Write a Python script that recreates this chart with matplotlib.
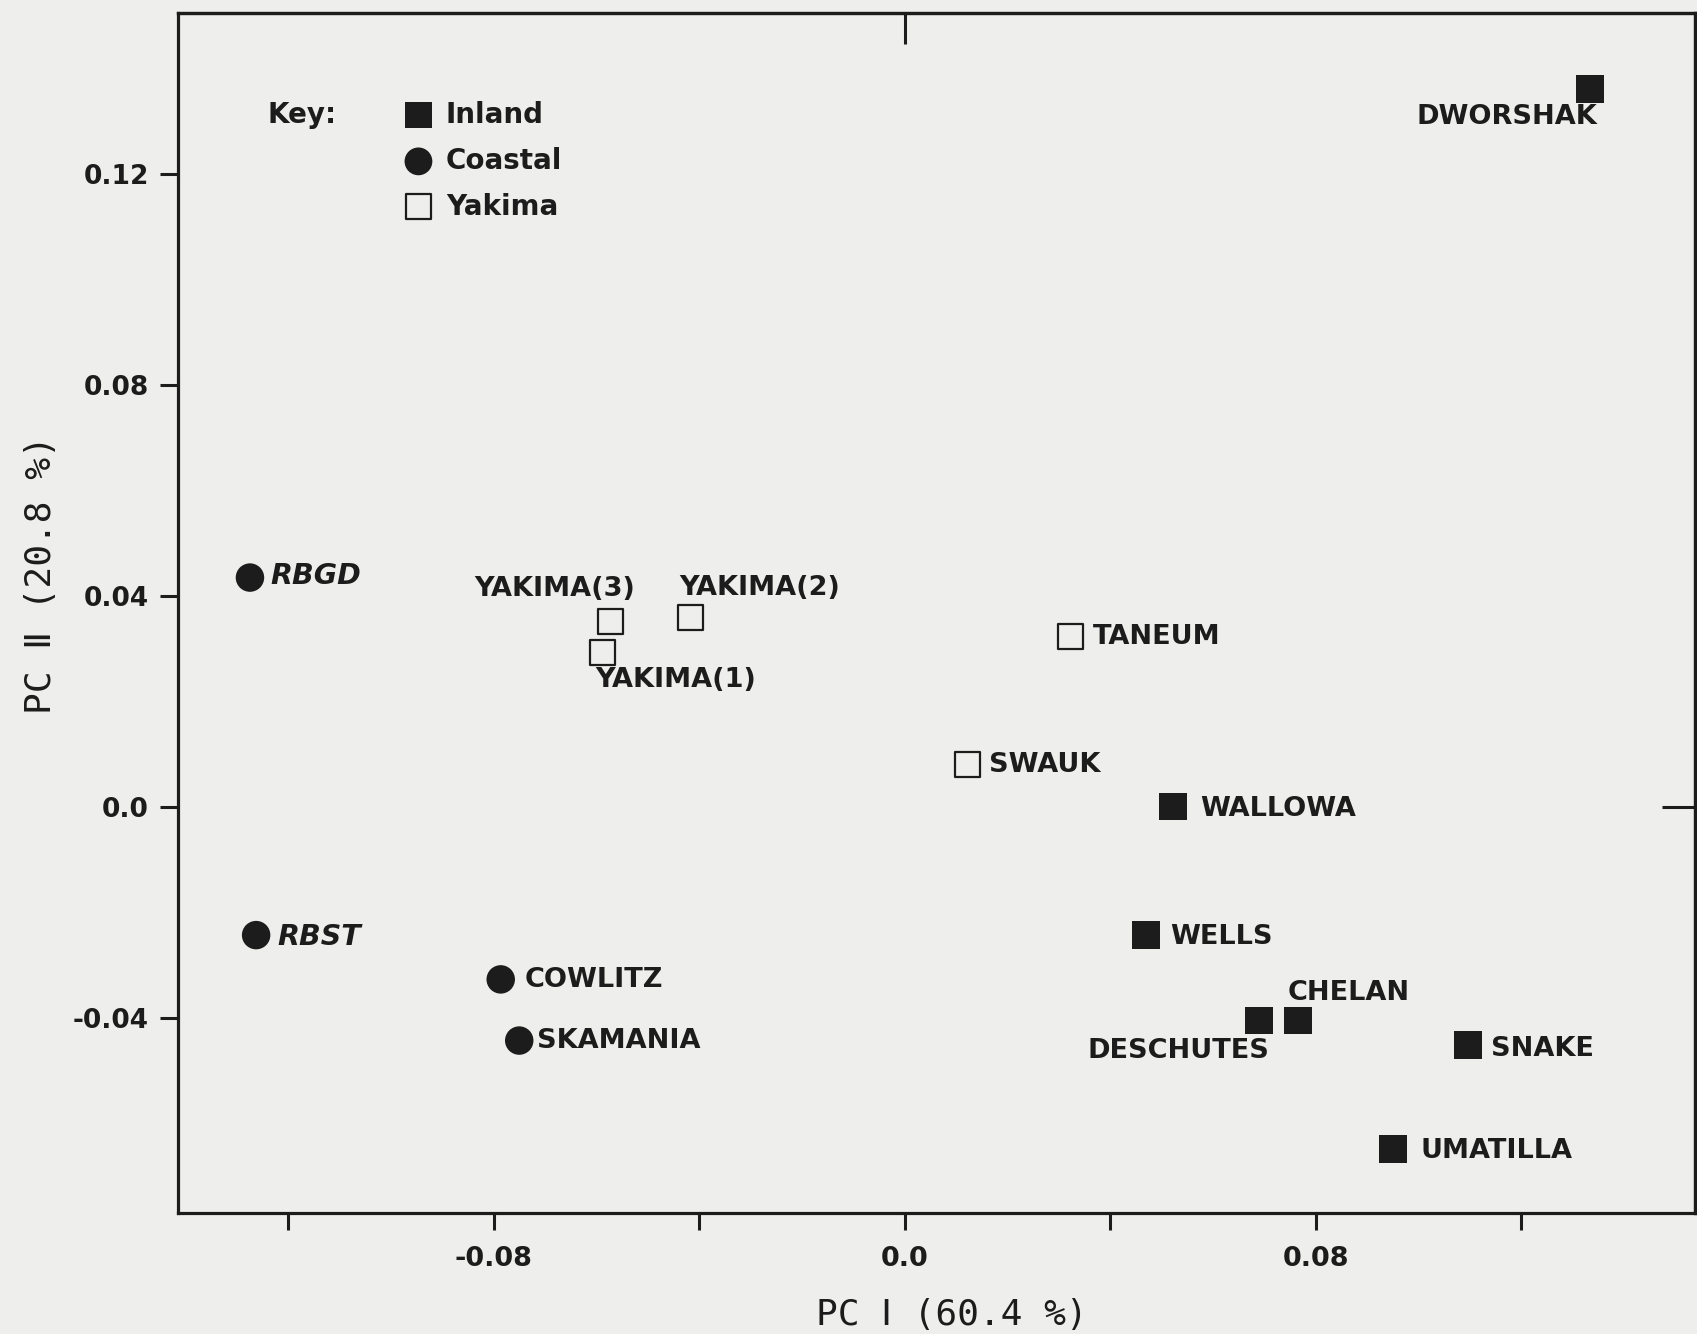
import matplotlib
matplotlib.use("Agg")
import matplotlib.pyplot as plt

# ---------------- data ----------------
inland_names = ["DWORSHAK", "WALLOWA", "WELLS", "DESCHUTES", "CHELAN", "SNAKE", "UMATILLA"]
inland_x = [0.1334, 0.0523, 0.0470, 0.0689, 0.0765, 0.1096, 0.0950]
inland_y = [0.1361, 0.0001, -0.0243, -0.0405, -0.0405, -0.0452, -0.0648]

coastal_names = ["RBGD", "RBST", "COWLITZ", "SKAMANIA"]
coastal_x = [-0.1274, -0.1262, -0.0786, -0.0750]
coastal_y = [0.0435, -0.0243, -0.0327, -0.0443]

yakima_names = ["YAKIMA(3)", "YAKIMA(2)", "YAKIMA(1)", "TANEUM", "SWAUK"]
yakima_x = [-0.0573, -0.0417, -0.0588, 0.0323, 0.0122]
yakima_y = [0.0351, 0.0359, 0.0292, 0.0323, 0.0081]

x_ticks = [-0.12, -0.08, -0.04, 0.0, 0.04, 0.08, 0.12]
x_ticklabels = ["", "-0.08", "", "0.0", "", "0.08", ""]
y_ticks = [-0.04, 0.0, 0.04, 0.08, 0.12]
y_ticklabels = ["-0.04", "0.0", "0.04", "0.08", "0.12"]

legend_labels = ["Inland", "Coastal", "Yakima"]
x_label = "PC \u2160 (60.4 %)"
y_label = "PC \u2161 (20.8 %)"

# label placement (offset points, alignment) -- styling only
inland_off = {"DWORSHAK": (5, -20, "right"), "WALLOWA": (19, -1.5, "left"),
              "WELLS": (17, -1.5, "left"), "DESCHUTES": (8, -22, "right"),
              "CHELAN": (-7, 19.5, "left"), "SNAKE": (17, -2.3, "left"),
              "UMATILLA": (20, -1.5, "left")}
coastal_off = {"RBGD": (14.5, 0.8, "left"), "RBST": (15.5, -1.5, "left"),
               "COWLITZ": (17, -0.5, "left"), "SKAMANIA": (13, -0.5, "left")}
yakima_off = {"YAKIMA(3)": (18, 24, "right"), "YAKIMA(2)": (-8, 21, "left"),
              "YAKIMA(1)": (-5.5, -19.5, "left"), "TANEUM": (16, 0, "left"),
              "SWAUK": (15.5, -0.8, "left")}

# ---------------- style ----------------
BG = "#eeeeec"
INK = "#1c1c1c"
plt.rcParams["font.family"] = ["DejaVu Sans"]
MONO = ["DejaVu Sans Mono", "DejaVu Sans"]
LABEL_FS = 19.5

fig = plt.figure(figsize=(16.97, 13.34), dpi=100, facecolor=BG)
ax = fig.add_axes([0.1049, 0.0907, 0.8939, 0.8993])
ax.set_facecolor(BG)

ax.set_xlim(-0.1414, 0.1538)
ax.set_ylim(-0.0770, 0.1505)

ax.scatter(inland_x, inland_y, marker="s", s=20**2, c=INK, edgecolors="none", zorder=3)
ax.scatter(coastal_x, coastal_y, marker="o", s=20.5**2, c=INK, edgecolors="none", zorder=3)
ax.scatter(yakima_x, yakima_y, marker="s", s=18**2, facecolors="none", edgecolors=INK,
           linewidths=1.6, zorder=3)

lab_kw = dict(textcoords="offset points", va="center", fontsize=LABEL_FS,
              fontweight="bold", color=INK)
for n, x, y in zip(inland_names, inland_x, inland_y):
    dx, dy, ha = inland_off[n]
    ax.annotate(n, (x, y), xytext=(dx, dy), ha=ha, **lab_kw)
for n, x, y in zip(coastal_names, coastal_x, coastal_y):
    dx, dy, ha = coastal_off[n]
    kw = dict(lab_kw)
    if n.startswith("RB"):
        kw["fontstyle"] = "italic"
        kw["fontsize"] = 20.5
    ax.annotate(n, (x, y), xytext=(dx, dy), ha=ha, **kw)
for n, x, y in zip(yakima_names, yakima_x, yakima_y):
    dx, dy, ha = yakima_off[n]
    ax.annotate(n, (x, y), xytext=(dx, dy), ha=ha, **lab_kw)

# key
KEY_FS = 20
ax.text(0.059, 0.9153, "Key:", transform=ax.transAxes, fontsize=KEY_FS, fontweight="bold",
        color=INK, va="center", ha="left")
key_y = [0.9153, 0.8766, 0.8387]
ax.scatter([0.1585], [key_y[0]], transform=ax.transAxes, marker="s", s=19**2, c=INK,
           edgecolors="none", clip_on=False)
ax.scatter([0.1585], [key_y[1]], transform=ax.transAxes, marker="o", s=20**2, c=INK,
           edgecolors="none", clip_on=False)
ax.scatter([0.1585], [key_y[2]], transform=ax.transAxes, marker="s", s=18**2,
           facecolors="none", edgecolors=INK, linewidths=1.6, clip_on=False)
for lab, yy in zip(legend_labels, key_y):
    ax.text(0.1765, yy, lab, transform=ax.transAxes, fontsize=KEY_FS, fontweight="bold",
            color=INK, va="center", ha="left")

# axes frame & ticks
for sp in ax.spines.values():
    sp.set_linewidth(2.3)
    sp.set_color(INK)
ax.set_xticks(x_ticks)
ax.set_xticklabels(x_ticklabels, fontsize=19.5, fontweight="bold", color=INK)
ax.set_yticks(y_ticks)
ax.set_yticklabels(y_ticklabels, fontsize=19, fontweight="bold", color=INK)
ax.tick_params(axis="x", direction="out", length=12.5, width=2.2, pad=11, color=INK)
ax.tick_params(axis="y", direction="out", length=13, width=2.2, pad=8, color=INK)

top = ax.secondary_xaxis("top")
top.set_xticks([0.0])
top.set_xticklabels([])
top.tick_params(direction="in", length=22, width=2.2, color=INK)
top.spines["top"].set_linewidth(2.3)
right = ax.secondary_yaxis("right")
right.set_yticks([0.0])
right.set_yticklabels([])
right.tick_params(direction="in", length=24, width=2.2, color=INK)
right.spines["right"].set_linewidth(2.3)

ax.set_xlabel(x_label, fontsize=26, color=INK, family=MONO)
ax.xaxis.set_label_coords(0.510, -0.071)
ax.set_ylabel(y_label, fontsize=26, color=INK, family=MONO)
ax.yaxis.set_label_coords(-0.079, 0.532)

fig.savefig("out.png", dpi=100, facecolor=BG)
